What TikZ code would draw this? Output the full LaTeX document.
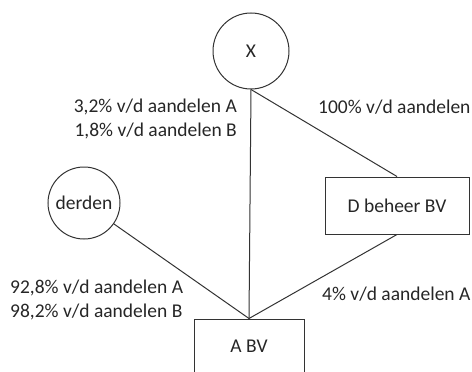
\documentclass[tikz,border=0pt]{standalone}
\usepackage{fontspec}
\setmainfont{Carlito}
\begin{document}
\begin{tikzpicture}[x=1pt,y=-1pt,
  every node/.style={font=\fontsize{19.5}{24}\selectfont, text=black!85},
  ent/.style={draw=black!80, line width=1pt, inner sep=0pt},
  link/.style={draw=black!80, line width=1pt},
  lbl/.style={inner sep=0pt, align=right}]
\useasboundingbox (0,0) rectangle (472,372);
\clip (0,0) rectangle (472,372);
\node[ent, circle, minimum size=76pt] (X) at (251,51) {X};
\node[ent, circle, minimum size=72pt] (derden) at (84,203) {derden};
\node[ent, rectangle, minimum width=144pt, minimum height=57pt] (D) at (397,205.5) {D beheer BV};
\node[ent, rectangle, minimum width=110pt, minimum height=62pt] (A) at (249,350) {};
\node at (249,346) (Alabel) {A BV};
\draw[link] (X.south) -- (A.north);
\draw[link] (X.south) -- (D.north);
\draw[link] (derden) -- (A.north);
\draw[link] (D.south) -- (A.north);
\node[lbl, anchor=east] (l1) at (237,119) {3,2\% v/d aandelen A\\1,8\% v/d aandelen B};
\node[lbl, anchor=west] (l2) at (318,107) {100\% v/d aandelen};
\node[lbl, anchor=west, align=left] (l3) at (10,299.5) {92,8\% v/d aandelen A\\98,2\% v/d aandelen B};
\node[lbl, anchor=west] (l4) at (322,294) {4\% v/d aandelen A};
\end{tikzpicture}
\end{document}
